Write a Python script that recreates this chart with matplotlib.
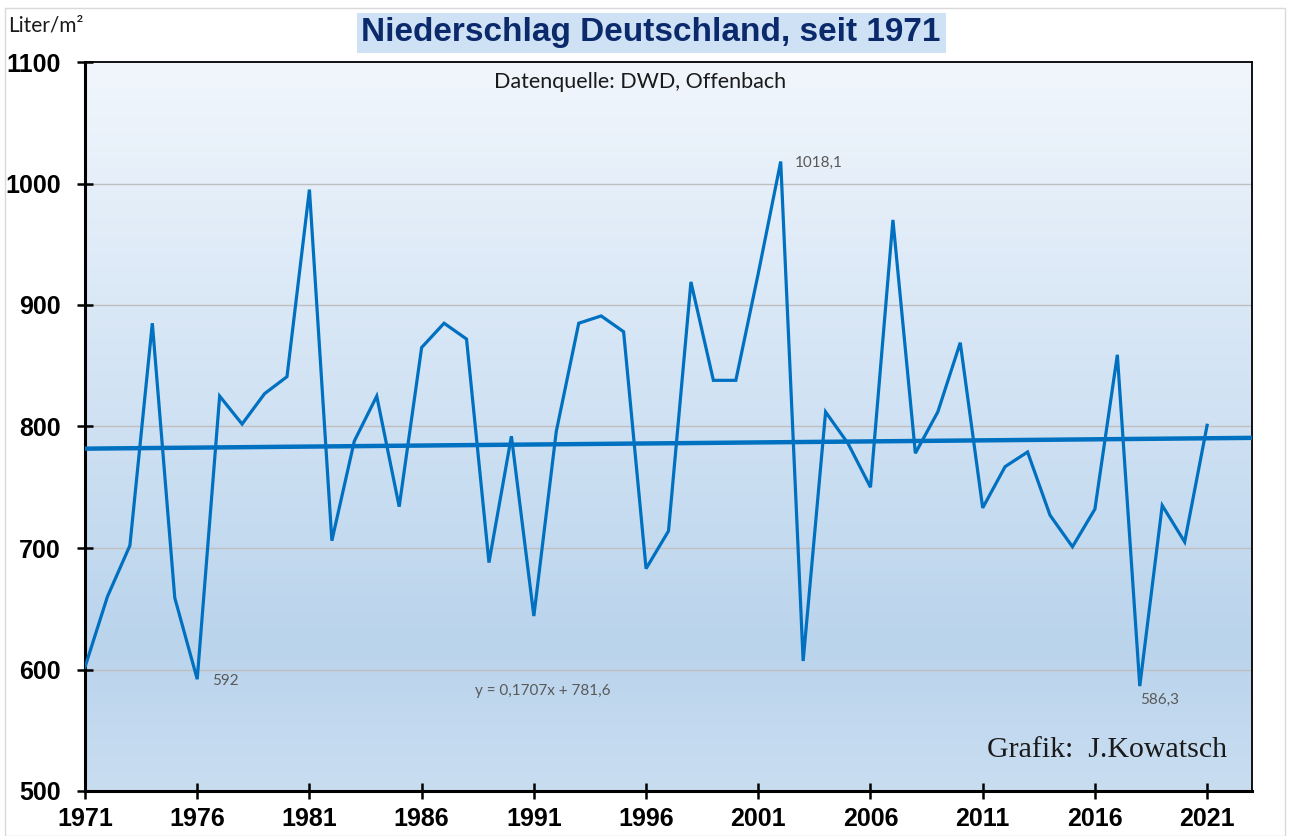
import numpy as np
import matplotlib
matplotlib.use("Agg")
import matplotlib.pyplot as plt
from matplotlib.patches import Rectangle
from matplotlib.colors import LinearSegmentedColormap

years = list(range(1971, 2022))
niederschlag = [602, 660, 702, 885, 659, 592, 825, 802, 827, 841,
                995, 706, 788, 825, 734, 865, 885, 872, 688, 792,
                644, 796, 885, 891, 878, 683, 714, 919, 838, 838,
                926, 1018.1, 607, 812, 786, 750, 970, 778, 812, 869,
                733, 767, 779, 727, 701, 732, 859, 586.3, 735, 705, 801]
trend_slope = 0.1707
trend_intercept = 781.6
x_ticks = list(range(1971, 2022, 5))
y_ticks = [500, 600, 700, 800, 900, 1000, 1100]

W, H = 1290, 836
fig = plt.figure(figsize=(W / 100, H / 100), dpi=100)
fig.patch.set_facecolor("white")

# outer light border
fig.add_artist(Rectangle((5 / W, 0), (W - 10) / W, (H - 8) / H, transform=fig.transFigure,
                         fill=False, edgecolor="#D9D9D9", linewidth=1.0))

ax = fig.add_axes([85 / W, 45 / H, 1167 / W, 729 / H])
ax.set_xlim(1971, 2023)
ax.set_ylim(500, 1100)

# gradient background
cmap = LinearSegmentedColormap.from_list("bg", [(0.0, "#C9DDF1"), (0.2, "#BAD4EC"),
                                                (0.55, "#D2E3F4"), (1.0, "#F1F6FC")])
grad = np.linspace(0, 1, 256).reshape(-1, 1)
ax.imshow(grad, extent=[1971, 2023, 500, 1100], origin="lower", cmap=cmap,
          aspect="auto", zorder=0)

for yv in y_ticks[1:-1]:
    ax.axhline(yv, color="#BFBFBF", linewidth=1.0, zorder=1)

ax.plot(years, niederschlag, color="#0070C0", linewidth=2.3, zorder=3,
        solid_joinstyle="miter")
tx = np.array([1971, 2023])
ax.plot(tx, trend_slope * (tx - 1970) + trend_intercept, color="#0070C0",
        linewidth=3.2, zorder=3)

for s in ax.spines.values():
    s.set_color("black")
    s.set_linewidth(1.3)
ax.spines["left"].set_linewidth(2.2)
ax.spines["bottom"].set_linewidth(2.2)

ax.set_xticks(x_ticks)
ax.set_xticklabels([str(v) for v in x_ticks])
ax.set_yticks(y_ticks)
ax.set_yticklabels([str(v) for v in y_ticks])
ax.tick_params(axis="both", direction="inout", length=11, width=1.8, color="black")
ax.tick_params(axis="x", pad=6)
ax.tick_params(axis="y", pad=12)
for lab in ax.get_xticklabels() + ax.get_yticklabels():
    lab.set_fontfamily("Liberation Sans")
    lab.set_fontweight("bold")
    lab.set_fontsize(18)

gray = "#595959"
ax.annotate("592", xy=(1976, 592), xytext=(11, -1), textcoords="offset points",
            fontsize=11, color=gray, family="Lato", va="center", ha="left")
ax.annotate("1018,1", xy=(2002, 1018.1), xytext=(10, -1), textcoords="offset points",
            fontsize=11, color=gray, family="Lato", va="center", ha="left")
ax.annotate("586,3", xy=(2018, 586.3), xytext=(0, -10), textcoords="offset points",
            fontsize=11, color=gray, family="Lato", va="center", ha="left")
ax.text(1991.4, 582.5, "y = 0,1707x + 781,6", fontsize=11, color=gray, family="Lato",
        ha="center", va="center")

ax.text(0.4756, 0.972, "Datenquelle: DWD, Offenbach", transform=ax.transAxes,
        fontsize=15.5, family="Lato", color="#1a1a1a", ha="center", va="center")
ax.text(0.979, 0.056, "Grafik:  J.Kowatsch", transform=ax.transAxes,
        fontsize=21.5, family="Liberation Serif", color="#1a1a1a", ha="right", va="center")

# title with light blue box
fig.add_artist(Rectangle((357 / W, 1 - 53 / H), (946 - 357) / W, 40 / H,
                         transform=fig.transFigure, facecolor="#CFE1F4",
                         edgecolor="none", zorder=1))
fig.text(651 / W, 1 - 32 / H, "Niederschlag Deutschland, seit 1971",
         fontsize=24, fontweight="bold", family="Liberation Sans", color="#0B2A6B",
         ha="center", va="center", zorder=2)
fig.text(8 / W, 1 - 26 / H, "Liter/m²", fontsize=15, family="Lato", color="#1a1a1a",
         ha="left", va="center")

fig.savefig("out.png", dpi=100)
